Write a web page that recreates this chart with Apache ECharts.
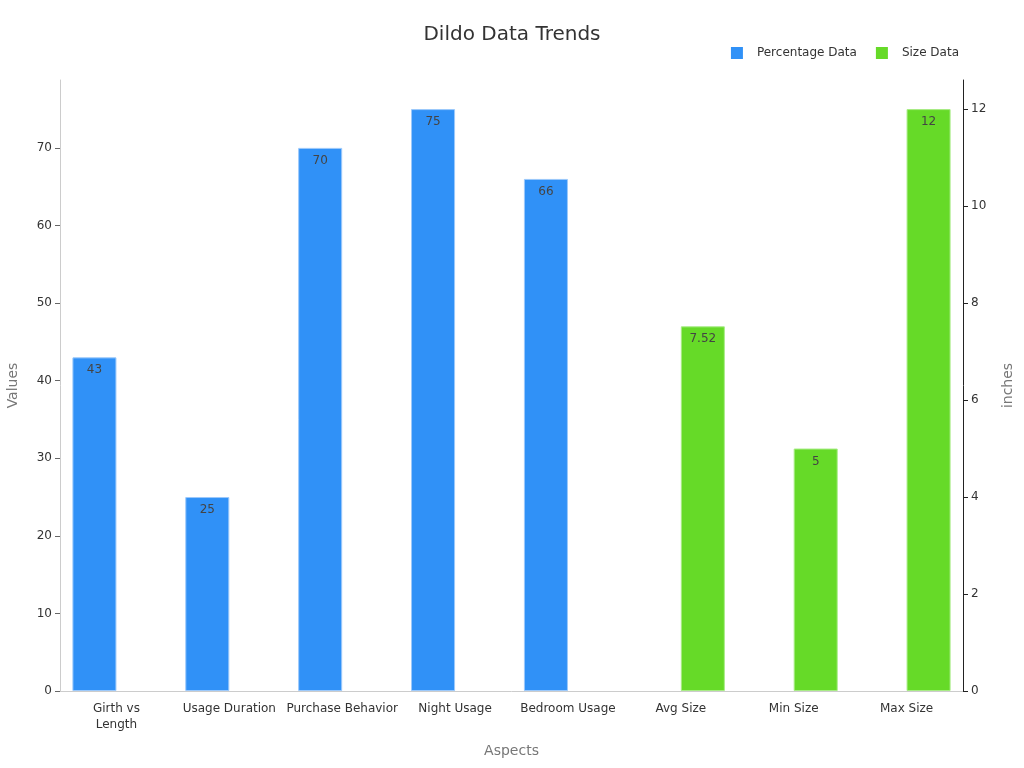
<!DOCTYPE html>
<html>
<head>
<meta charset="utf-8">
<script src="https://cdn.jsdelivr.net/npm/echarts@6/dist/echarts.min.js"></script>
<style>html,body{margin:0;padding:0;background:#fff}#c{width:1024px;height:768px}</style>
</head>
<body>
<div id="c"></div>
<script>
const categories = ["Girth vs\nLength", "Usage Duration", "Purchase Behavior", "Night Usage", "Bedroom Usage", "Avg Size", "Min Size", "Max Size"];
const percentageData = [43, 25, 70, 75, 66, null, null, null];
const sizeData = [null, null, null, null, null, 7.52, 5, 12];
const leftTicks = [0, 10, 20, 30, 40, 50, 60, 70];
const rightTicks = [0, 2, 4, 6, 8, 10, 12];

const chart = echarts.init(document.getElementById('c'));
const font = 'DejaVu Sans';
chart.setOption({
  textStyle: { fontFamily: font },
  title: { text: 'Dildo Data Trends', left: 'center', top: 20, textStyle: { fontFamily: font, fontSize: 20, fontWeight: 'normal', color: '#333' } },
  legend: { top: 42, right: 60, icon: 'rect', itemWidth: 12, itemHeight: 12, itemGap: 19,
    itemStyle: { borderWidth: 0 },
    textStyle: { fontFamily: font, fontSize: 12, color: '#333', padding: [0, 0, 0, 9] },
    data: ['Percentage Data', 'Size Data'] },
  grid: { left: 60, right: 61, top: 80, bottom: 77, containLabel: false, outerBoundsMode: 'none' },
  xAxis: {
    type: 'category', data: categories,
    name: 'Aspects', nameLocation: 'middle', nameGap: 53,
    nameTextStyle: { fontFamily: font, fontSize: 14, color: '#777' },
    axisLine: { lineStyle: { color: '#ccc' } },
    axisTick: { alignWithLabel: true, lineStyle: { color: '#666' } },
    axisLabel: { color: '#333', fontSize: 12, interval: 0, margin: 10, lineHeight: 16 }
  },
  yAxis: [
    { type: 'value', name: 'Values', nameLocation: 'middle', nameGap: 40,
      min: 0, max: v => v.max * 1.05,
      nameTextStyle: { fontFamily: font, fontSize: 14, color: '#777' },
      axisLine: { show: true, lineStyle: { color: '#ccc' } },
      axisTick: { show: true, customValues: leftTicks, lineStyle: { color: '#666' } },
      axisLabel: { color: '#333', fontSize: 12, customValues: leftTicks },
      splitLine: { show: false } },
    { type: 'value', name: 'inches', nameLocation: 'middle', nameGap: 38,
      min: 0, max: v => v.max * 1.05,
      nameTextStyle: { fontFamily: font, fontSize: 14, color: '#777' },
      axisLine: { show: true, lineStyle: { color: '#222' } },
      axisTick: { show: true, customValues: rightTicks, lineStyle: { color: '#222' } },
      axisLabel: { color: '#333', fontSize: 12, customValues: rightTicks },
      splitLine: { show: false } }
  ],
  series: [
    { name: 'Percentage Data', type: 'bar', data: percentageData, yAxisIndex: 0,
      barWidth: '39%', barGap: '0%',
      itemStyle: { color: '#3091f7', borderColor: '#9cc9fb', borderWidth: 1 },
      label: { show: true, position: 'insideTop', distance: 7, color: '#444', fontSize: 12 } },
    { name: 'Size Data', type: 'bar', data: sizeData, yAxisIndex: 1,
      barWidth: '39%', barGap: '0%',
      itemStyle: { color: '#66da28', borderColor: '#a8ec85', borderWidth: 1 },
      label: { show: true, position: 'insideTop', distance: 7, color: '#444', fontSize: 12 } }
  ]
});
</script>
</body>
</html>
